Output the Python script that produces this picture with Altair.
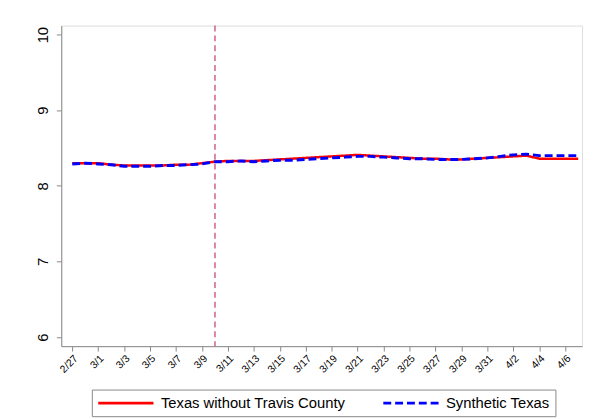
import altair as alt
import pandas as pd

# Day index 0 = 2/27 ... 39 = 4/7
dates = ["2/27", "2/28", "3/1", "3/2", "3/3", "3/4", "3/5", "3/6", "3/7", "3/8",
         "3/9", "3/10", "3/11", "3/12", "3/13", "3/14", "3/15", "3/16", "3/17", "3/18",
         "3/19", "3/20", "3/21", "3/22", "3/23", "3/24", "3/25", "3/26", "3/27", "3/28",
         "3/29", "3/30", "3/31", "4/1", "4/2", "4/3", "4/4", "4/5", "4/6", "4/7"]

texas_wo_travis = [8.30, 8.30, 8.30, 8.28, 8.27, 8.27, 8.27, 8.27, 8.28, 8.28,
                   8.30, 8.32, 8.33, 8.33, 8.33, 8.34, 8.35, 8.36, 8.37, 8.38,
                   8.39, 8.40, 8.41, 8.40, 8.39, 8.38, 8.37, 8.36, 8.36, 8.35,
                   8.35, 8.36, 8.37, 8.38, 8.39, 8.40, 8.36, 8.36, 8.36, 8.36]

synthetic_texas = [8.29, 8.30, 8.29, 8.28, 8.26, 8.26, 8.26, 8.27, 8.27, 8.28,
                   8.29, 8.32, 8.32, 8.33, 8.32, 8.33, 8.34, 8.34, 8.35, 8.36,
                   8.37, 8.38, 8.39, 8.39, 8.38, 8.37, 8.36, 8.36, 8.35, 8.35,
                   8.35, 8.36, 8.37, 8.39, 8.41, 8.42, 8.40, 8.40, 8.40, 8.40]

tick_days = list(range(0, 39, 2))
tick_labels = [dates[i] for i in tick_days]
y_ticks = [6, 7, 8, 9, 10]
intervention_day = 11  # 3/10

series_names = ["Texas without Travis County", "Synthetic Texas"]
series_colors = ["#FF0000", "#0000FF"]
series_dash = [[1, 0], [8, 4]]

rows = []
for i, d in enumerate(dates):
    rows.append({"day": i, "date": d, "value": texas_wo_travis[i], "series": series_names[0]})
for i, d in enumerate(dates):
    rows.append({"day": i, "date": d, "value": synthetic_texas[i], "series": series_names[1]})
df = pd.DataFrame(rows)

label_arr = "[" + ",".join("'" + t + "'" for t in tick_labels) + "]"

x_enc = alt.X("day:Q",
              scale=alt.Scale(domain=[-0.85, 39.3], nice=False, zero=False),
              axis=alt.Axis(values=tick_days, labelExpr=label_arr + "[round(datum.value/2)]",
                            labelAngle=315, labelAlign="right", labelBaseline="top",
                            labelFontSize=10.5, tickSize=5, grid=False, title=None,
                            labelPadding=2, labelOverlap=False, labelSeparation=0,
                            tickCount=20))
y_enc = alt.Y("value:Q",
              scale=alt.Scale(domain=[5.88, 10.12], nice=False, zero=False),
              axis=alt.Axis(values=y_ticks, format="d", labelAngle=270,
                            labelAlign="center", labelBaseline="bottom",
                            labelFontSize=15, tickSize=5, grid=False, title=None,
                            labelPadding=6))

legend_opts = dict(title=None, orient="none", direction="horizontal",
                   legendX=31, legendY=369,
                   symbolType="M-1,0H7", symbolSize=196,
                   symbolStrokeWidth=3, labelFontSize=15,
                   labelOffset=48, columnPadding=31,
                   padding=5, strokeColor="#888888",
                   labelLimit=400)

color_enc = alt.Color("series:N",
                      scale=alt.Scale(domain=series_names, range=series_colors),
                      legend=alt.Legend(**legend_opts))
dash_enc = alt.StrokeDash("series:N",
                          scale=alt.Scale(domain=series_names, range=series_dash),
                          legend=alt.Legend(**legend_opts))

base = alt.Chart(df)
red = base.transform_filter(alt.datum.series == series_names[0]).mark_line(strokeWidth=2.5).encode(
    x=x_enc, y=y_enc, color=color_enc, strokeDash=dash_enc)
blue = base.transform_filter(alt.datum.series == series_names[1]).mark_line(strokeWidth=3).encode(
    x=x_enc, y=y_enc, color=color_enc, strokeDash=dash_enc)

vline = alt.Chart(pd.DataFrame({"day": [intervention_day]})).mark_rule(
    color="#C8486B", strokeWidth=1.3, strokeDash=[6, 4]).encode(x="day:Q")

chart = alt.layer(vline, red, blue).properties(
    width=528, height=325,
    autosize=alt.AutoSizeParams(type="none"),
    padding={"left": 54, "top": 15, "right": 5, "bottom": 70},
).configure_view(strokeWidth=0, stroke="transparent").configure_axis(
    domainColor="#333333", tickColor="#333333", labelColor="#222222",
    labelFont="Liberation Sans", domainWidth=1, labelOverlap=False
).configure_legend(labelFont="Liberation Sans").configure(background="white")

chart.save("out.html", embed_options={"renderer": "svg", "actions": False})
